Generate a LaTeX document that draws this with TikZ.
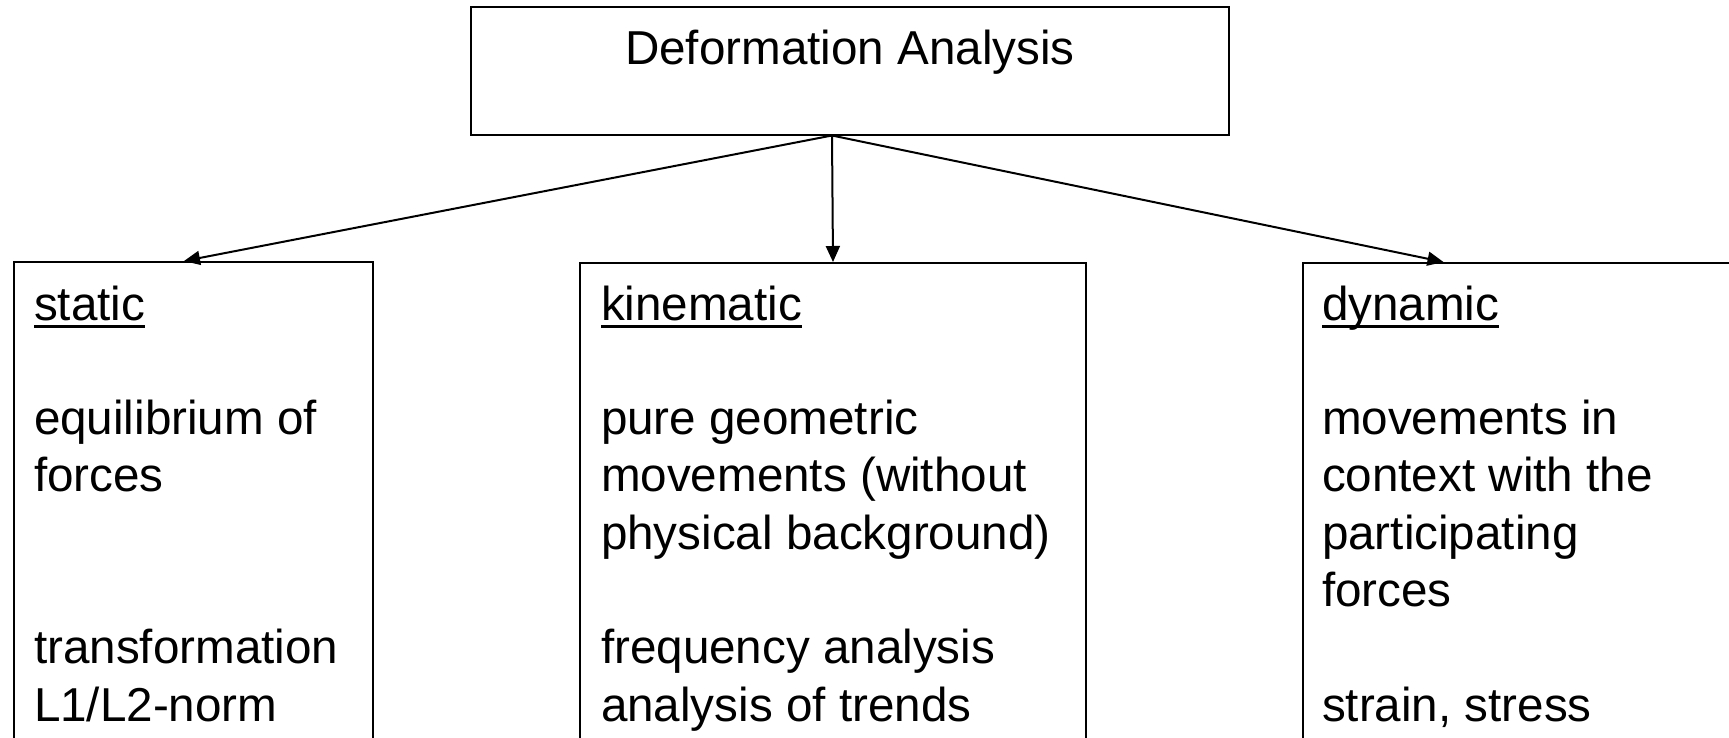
\documentclass[tikz,border=0pt]{standalone}
\usepackage{fontspec}
\setmainfont{Liberation Sans}
\usetikzlibrary{arrows.meta}
% word with a flat underline placed just below the baseline
\newcommand\ulword[1]{\setbox0\hbox{#1}\rlap{\rule[-8pt]{\wd0}{3pt}}\box0}
\begin{document}
\begin{tikzpicture}[x=1pt,y=1pt,
  font=\fontsize{47.6pt}{57.3pt}\selectfont,
  line width=2pt,
  panel/.style={draw, rectangle, anchor=north west, inner sep=0pt, minimum height=600pt},
  caption/.style={anchor=north west, inner sep=0pt, align=left},
  link/.style={-{Triangle[length=16pt,width=14pt]}, line width=2pt}]
\useasboundingbox (0,0) rectangle (1729,-737);
\clip (0,0) rectangle (1729,-737);

% header
\node[draw, rectangle, minimum width=758pt, minimum height=128pt, inner sep=0pt] (head) at (850,-70.5) {};
\node[anchor=base, inner sep=0pt] (title) at (850,-64) {Deformation Analysis};
\coordinate (fork) at ([xshift=-18pt]head.south);

% three categories (boxes run past the lower edge)
\node[panel, minimum width=359pt] (static) at (13,-261) {};
\node[panel, minimum width=506pt] (kinem) at (579,-262) {};
\node[panel, minimum width=600pt] (dynam) at (1302,-262) {};

\node[caption] (statictxt) at (33,-278.9)
  {\strut\ulword{static}\\[57.3pt]equilibrium of\\forces\\[114.6pt]transformation\\L1/L2-norm};
\node[caption] (kinemtxt) at (600,-278.9)
  {\strut\ulword{kinematic}\\[57.3pt]pure geometric\\movements (without\\physical background)\\[57.3pt]frequency analysis\\analysis of trends};
\node[caption] (dynamtxt) at (1321,-278.9)
  {\strut\ulword{dynamic}\\[57.3pt]movements in\\context with the\\participating\\forces\\[57.3pt]strain, stress};

% connectors
\draw[link] (fork) -- ([xshift=171pt]static.north west);
\draw[link] (fork) -- (kinem.north);
\draw[link] (fork) -- ([xshift=141.5pt]dynam.north west);
\end{tikzpicture}
\end{document}
